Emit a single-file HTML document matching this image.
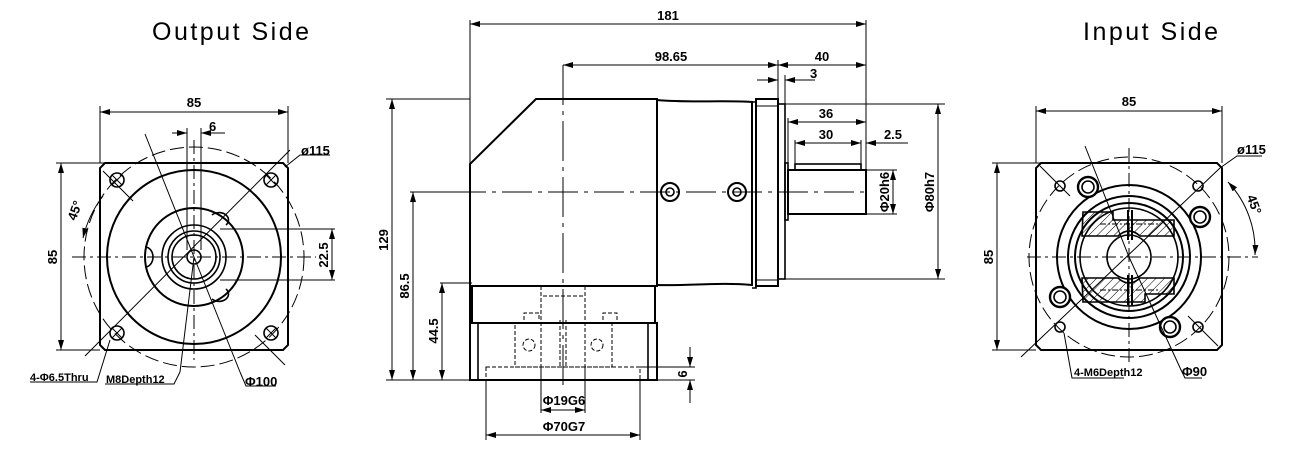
<!DOCTYPE html>
<html><head><meta charset="utf-8"><style>
html,body{margin:0;padding:0;background:#fff;}
svg{display:block;}
text{font-family:"Liberation Sans",sans-serif;fill:#000;}
.d{font-size:13px;font-weight:bold;}
.t{font-size:25px;letter-spacing:2.5px;}
</style></head><body>
<svg width="1300" height="452" viewBox="0 0 1300 452" xmlns="http://www.w3.org/2000/svg">
<defs>
<marker id="a" viewBox="0 0 10 6" refX="10" refY="3" markerWidth="10" markerHeight="6" orient="auto-start-reverse" markerUnits="userSpaceOnUse"><path d="M0,0 L10,3 L0,6z" fill="#000"/></marker>
<pattern id="h" width="6" height="6" patternUnits="userSpaceOnUse" patternTransform="rotate(45)"><line x1="0" y1="0" x2="0" y2="6" stroke="#000" stroke-width="1"/></pattern>
</defs>
<text class="t" x="152" y="40">Output Side</text>
<text class="t" x="1083" y="40">Input Side</text>

<g fill="none" stroke="#000" stroke-width="1">
<!-- ============ LEFT VIEW ============ -->
<path d="M105,163 H283 L288,168 V345 L283,350 H105 L100,345 V168Z" stroke-width="2"/>
<circle cx="194" cy="257" r="110" stroke-dasharray="14,5"/>
<circle cx="194" cy="257" r="87" stroke-width="2"/>
<circle cx="194" cy="257" r="49" stroke-width="2"/>
<circle cx="194" cy="257" r="32" stroke-width="1.6"/>
<circle cx="194" cy="257" r="26" stroke-width="1.6"/>
<circle cx="194" cy="257" r="22" stroke-width="1.6"/>
<circle cx="194" cy="257" r="7" stroke-width="1.6"/>
<path d="M145,247 a8,10 0 0 1 0,20" stroke-width="1.6"/>
<path d="M212,215 a9,7 0 0 1 14,10" stroke-width="1.6"/>
<path d="M212,299 a9,7 0 0 0 14,-10" stroke-width="1.6"/>
<g stroke-width="1.6">
<circle cx="117" cy="180" r="7"/><circle cx="271" cy="180" r="7"/><circle cx="117" cy="333" r="7"/><circle cx="271" cy="333" r="7"/>
</g>
<path d="M112,175 l10,10 M122,175 l-10,10 M266,175 l10,10 M276,175 l-10,10 M112,328 l10,10 M122,328 l-10,10 M266,328 l10,10 M276,328 l-10,10"/>
<path d="M72,257 H316" stroke-dasharray="14,4,3,4"/>
<path d="M194,140 V360" stroke-dasharray="14,4,3,4"/>
<path d="M85,356 L290,150 M103,171 l30,30 M255,335 l30,30" />
<path d="M145,134 L194,257 L240,372 M194,257 L180,372"/>
<path d="M100,163 V106 M288,163 V106"/>
<path d="M100,112 H288" marker-start="url(#a)" marker-end="url(#a)"/>
<path d="M187,128 V250 M201,128 V250"/>
<path d="M172,133 H187" marker-end="url(#a)"/><path d="M216,133 H201" marker-end="url(#a)"/><path d="M201,133 H225"/>
<path d="M56,163 H105 M56,350 H100"/>
<path d="M61,163 V350" marker-start="url(#a)" marker-end="url(#a)"/>
<path d="M83,238 A110,110 0 0 1 103,196" marker-start="url(#a)"/>
<path d="M220,229 H335 M220,280 H335"/>
<path d="M332,229 V280" marker-start="url(#a)" marker-end="url(#a)"/>
<path d="M285,167 L300,155 H330"/>
<path d="M110,340 L97,382 H30"/>
<path d="M180,372 L174,384 H105"/>
<path d="M240,372 L246,386 H276"/>

<!-- ============ MIDDLE VIEW ============ -->
<path d="M470,380 V164 L536,99 H657 V286 H470" stroke-width="2"/>
<path d="M657,100 C690,103 720,100 752,102 V285 C720,282 690,286 657,285" stroke-width="2"/>
<path d="M752,102 H756 V288 H752" stroke-width="1.6"/>
<rect x="756" y="99" width="22" height="187" stroke-width="2"/>
<path d="M756,106 H778 M756,280 H778"/>
<rect x="778" y="104" width="7" height="175" stroke-width="1.6"/>
<rect x="785" y="163" width="3" height="57" stroke-width="1.6"/>
<rect x="788" y="170" width="78" height="44" stroke-width="2"/>
<rect x="795" y="164" width="66" height="6" stroke-width="1.6"/>
<circle cx="670" cy="192" r="9" stroke-width="2"/><circle cx="670" cy="192" r="4" stroke-width="1.6"/>
<circle cx="737" cy="192" r="9" stroke-width="2"/><circle cx="737" cy="192" r="4" stroke-width="1.6"/>
<path d="M410,192 H870" stroke-dasharray="30,6,4,6"/>
<path d="M563,65 V387" stroke-dasharray="40,6,4,6"/>
<path d="M472,286 V323 M655,286 V323" stroke-width="2"/>
<rect x="470" y="323" width="187" height="57" stroke-width="2"/>
<path d="M478,323 V380 M648,323 V380" stroke-width="1.6"/>
<g stroke-dasharray="4,2">
<path d="M541,286 V296 H585 V286 M541,286 V367 M585,286 V367"/>
<rect x="515" y="323" width="97" height="44"/>
<circle cx="529" cy="345" r="6"/><circle cx="597" cy="345" r="6"/>
<path d="M524,320 V313 H539 V320 M603,320 V313 H617 V320"/>
<rect x="486" y="367" width="154" height="13"/>
<path d="M560,320 V367 M566,320 V367"/>
</g>
<path d="M470,20 V164 M866,20 V170"/>
<path d="M470,24 H866" marker-start="url(#a)" marker-end="url(#a)"/>
<path d="M563,65 H778" marker-start="url(#a)" marker-end="url(#a)"/>
<path d="M778,60 V99 M785,75 V104"/>
<path d="M778,65 H866" marker-start="url(#a)" marker-end="url(#a)"/>
<path d="M757,80 H778" marker-end="url(#a)"/><path d="M806,80 H785" marker-end="url(#a)"/><path d="M806,80 H815"/>
<path d="M788,118 V170 M795,140 V164 M861,140 V164"/>
<path d="M788,122 H866" marker-start="url(#a)" marker-end="url(#a)"/>
<path d="M795,143 H861" marker-start="url(#a)" marker-end="url(#a)"/>
<path d="M866,143 H908 M886,143 H866" marker-end="url(#a)"/>
<path d="M866,170 H897 M866,214 H897"/>
<path d="M893,170 V214" marker-start="url(#a)" marker-end="url(#a)"/>
<path d="M785,104 H945 M785,279 H945"/>
<path d="M938,104 V279" marker-start="url(#a)" marker-end="url(#a)"/>
<path d="M386,99 H470 M386,380 H470 M410,192 H470 M440,283 H472"/>
<path d="M392,99 V380" marker-start="url(#a)" marker-end="url(#a)"/>
<path d="M413,192 V380" marker-start="url(#a)" marker-end="url(#a)"/>
<path d="M442,283 V380" marker-start="url(#a)" marker-end="url(#a)"/>
<path d="M541,367 V413 M585,367 V413 M486,380 V440 M640,380 V440"/>
<path d="M541,410 H585" marker-start="url(#a)" marker-end="url(#a)"/>
<path d="M486,435 H640" marker-start="url(#a)" marker-end="url(#a)"/>
<path d="M640,367 H695 M657,380 H695"/>
<path d="M690,347 V367" marker-end="url(#a)"/><path d="M690,403 V380" marker-end="url(#a)"/>

<!-- ============ RIGHT VIEW ============ -->
<path d="M1041,163 H1217 L1222,168 V345 L1217,350 H1041 L1036,345 V168Z" stroke-width="2"/>
<circle cx="1129" cy="257" r="100" stroke-dasharray="14,5"/>
<circle cx="1129" cy="257" r="72" stroke-width="2"/>
<circle cx="1129" cy="257" r="61" stroke-width="2"/>
<circle cx="1129" cy="257" r="54" stroke-width="2"/>
<circle cx="1129" cy="257" r="49" stroke-width="1.6"/>
<path d="M1083,212 H1113 V220 H1174 V236 H1140 Q1129,226 1118,236 H1082Z" fill="url(#h)" stroke-width="1.6"/>
<path d="M1083,302 H1145 V294 H1174 V278 H1140 Q1129,288 1118,278 H1082Z" fill="url(#h)" stroke-width="1.6"/>
<path d="M1100,224 H1160 M1100,290 H1160" stroke-dasharray="6,2,2,2"/>
<circle cx="1129" cy="257" r="22" stroke-width="1.6" fill="#fff"/>
<path d="M1128,210 V240 M1132,210 V240 M1128,275 V305 M1132,275 V305" stroke-width="2"/>
<g stroke-width="2.4">
<circle cx="1088" cy="187" r="10" fill="#fff"/><circle cx="1200" cy="217" r="10" fill="#fff"/><circle cx="1060" cy="297" r="10" fill="#fff"/><circle cx="1170" cy="327" r="10" fill="#fff"/>
</g>
<g stroke-width="1.6">
<circle cx="1088" cy="187" r="6"/><circle cx="1200" cy="217" r="6"/><circle cx="1060" cy="297" r="6"/><circle cx="1170" cy="327" r="6"/>
<circle cx="1060" cy="186" r="5"/><circle cx="1198" cy="186" r="5"/><circle cx="1060" cy="327" r="5"/><circle cx="1198" cy="327" r="5"/>
</g>
<path d="M1027,257 H1258" stroke-dasharray="14,4,3,4"/>
<path d="M1129,148 V365" stroke-dasharray="14,4,3,4"/>
<path d="M1021,357 L1220,168 M1040,166 l30,30 M1188,316 l30,30"/>
<path d="M1085,146 L1129,257 L1182,372"/>
<path d="M1036,163 V106 M1222,163 V106"/>
<path d="M1036,111 H1222" marker-start="url(#a)" marker-end="url(#a)"/>
<path d="M992,163 H1041 M992,350 H1036"/>
<path d="M997,163 V350" marker-start="url(#a)" marker-end="url(#a)"/>
<path d="M1228,182 A100,100 0 0 1 1255,255" marker-start="url(#a)" marker-end="url(#a)"/>
<path d="M1220,168 L1237,156 H1262"/>
<path d="M1064,333 L1072,378 H1124"/>
<path d="M1182,372 L1185,378 H1202"/>
</g>

<g class="d">
<text x="194" y="107" text-anchor="middle">85</text>
<text x="209" y="131">6</text>
<text x="301" y="155">ø115</text>
<text transform="translate(57,257) rotate(-90)" text-anchor="middle">85</text>
<text transform="translate(79,212) rotate(-70)" text-anchor="middle">45°</text>
<text transform="translate(328,255) rotate(-90)" text-anchor="middle">22.5</text>
<text x="30" y="381" font-size="11">4-Φ6.5Thru</text>
<text x="106" y="383" font-size="11">M8Depth12</text>
<text x="245" y="386">Φ100</text>

<text x="668" y="20" text-anchor="middle">181</text>
<text x="671" y="61" text-anchor="middle">98.65</text>
<text x="822" y="61" text-anchor="middle">40</text>
<text x="810" y="78">3</text>
<text x="826" y="118" text-anchor="middle">36</text>
<text x="826" y="139" text-anchor="middle">30</text>
<text x="893" y="139" text-anchor="middle">2.5</text>
<text transform="translate(889,192) rotate(-90)" text-anchor="middle">Φ20h6</text>
<text transform="translate(934,192) rotate(-90)" text-anchor="middle">Φ80h7</text>
<text transform="translate(388,240) rotate(-90)" text-anchor="middle">129</text>
<text transform="translate(409,286) rotate(-90)" text-anchor="middle">86.5</text>
<text transform="translate(438,331) rotate(-90)" text-anchor="middle">44.5</text>
<text x="564" y="405" text-anchor="middle">Φ19G6</text>
<text x="564" y="431" text-anchor="middle">Φ70G7</text>
<text transform="translate(687,374) rotate(-90)" text-anchor="middle">6</text>

<text x="1129" y="106" text-anchor="middle">85</text>
<text x="1237" y="154">ø115</text>
<text transform="translate(993,257) rotate(-90)" text-anchor="middle">85</text>
<text transform="translate(1250,206) rotate(70)" text-anchor="middle">45°</text>
<text x="1074" y="376" font-size="11">4-M6Depth12</text>
<text x="1182" y="376">Φ90</text>
</g>
</svg>
</body></html>
